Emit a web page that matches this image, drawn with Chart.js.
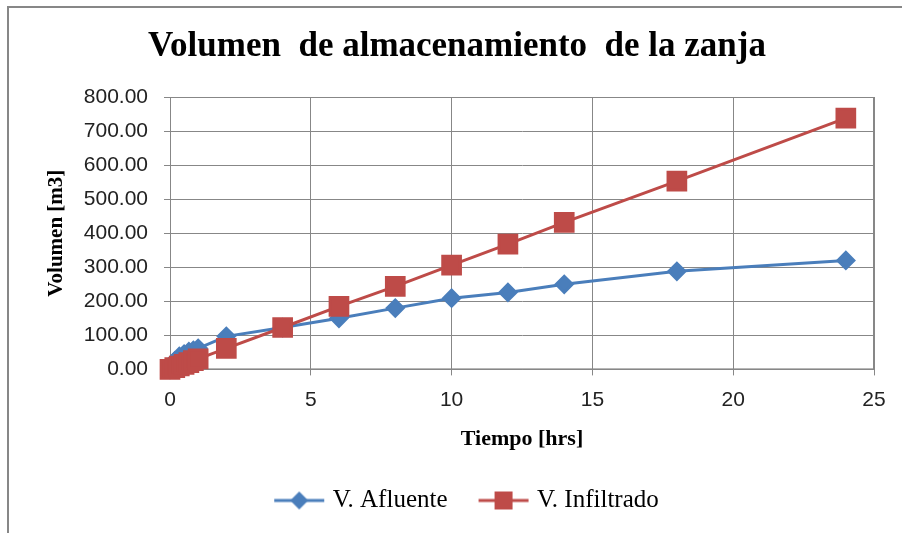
<!DOCTYPE html>
<html>
<head>
<meta charset="utf-8">
<script src="https://cdn.jsdelivr.net/npm/chart.js@4.4.1/dist/chart.umd.min.js"></script>
<style>
  html, body { margin: 0; padding: 0; background: #fff; }
  #wrap { position: relative; width: 902px; height: 533px; overflow: hidden; }
  #frame { position: absolute; left: 7px; top: 6px; width: 1000px; height: 1000px; border-left: 2px solid #878787; border-top: 2px solid #878787; }
  #c { position: absolute; left: 0; top: 0; }
</style>
</head>
<body>
<div id="wrap">
  <div id="frame"></div>
  <canvas id="c" width="902" height="533"></canvas>
</div>
<script>
/* datos */
const tiempo      = [0, 0.17, 0.33, 0.5, 0.67, 0.83, 1, 2, 4, 6, 8, 10, 12, 14, 18, 24];
const vAfluente   = [0, 25, 38, 45, 52, 56, 62, 97, 123, 150, 180, 209, 226, 250, 288, 320];
const vInfiltrado = [0, 5, 10, 15, 20, 26, 31, 62, 123, 185, 244, 306, 368, 432, 553, 738];
const yTicks = [0, 100, 200, 300, 400, 500, 600, 700, 800];
const xTicks = [0, 5, 10, 15, 20, 25];

const AZUL = '#4a7ebb', ROJO = '#be4b48', GRIS = '#878787';

/* icono de leyenda: línea + marcador (con hueco a la izquierda para separar entradas) */
function legIcon(color, style) {
  const cv = document.createElement('canvas');
  cv.width = 75; cv.height = 20;
  const g = cv.getContext('2d');
  g.strokeStyle = color; g.lineWidth = 3;
  g.beginPath(); g.moveTo(24, 10); g.lineTo(74, 10); g.stroke();
  g.fillStyle = color;
  if (style === 'rect') g.fillRect(40, 1, 18, 18);
  else { g.beginPath(); g.moveTo(49, 1); g.lineTo(58, 10); g.lineTo(49, 19); g.lineTo(40, 10); g.closePath(); g.fill(); }
  return cv;
}

const pts = (ys) => tiempo.map((t, i) => ({ x: t, y: ys[i] }));

new Chart(document.getElementById('c'), {
  type: 'line',
  data: { datasets: [
    // order 1: se dibuja debajo de la serie roja, como en la original
    { label: 'V. Afluente', data: pts(vAfluente), borderColor: AZUL, backgroundColor: AZUL, clip: false, order: 1,
      borderWidth: 3, pointStyle: 'rectRot', pointRadius: 8, pointHoverRadius: 8, tension: 0 },
    { label: 'V. Infiltrado', data: pts(vInfiltrado), borderColor: ROJO, backgroundColor: ROJO, clip: false, order: 0,
      borderWidth: 3, pointStyle: 'rect', pointRadius: 12.5, pointHoverRadius: 12.5, tension: 0 },
  ]},
  options: {
    responsive: false, animation: false,
    layout: { padding: { left: 40, right: 28, top: 0, bottom: 10 } },
    plugins: {
      title: { display: true, text: 'Volumen  de almacenamiento  de la zanja', color: '#000',
        font: { family: 'Liberation Serif', size: 35, weight: 'bold' }, padding: { top: 26, bottom: 29 } },
      legend: { position: 'bottom',
        labels: { color: '#000', font: { family: 'Liberation Serif', size: 25 }, usePointStyle: true, pointStyleWidth: 65, padding: 12,
          generateLabels: ch => ch.data.datasets.map((d, i) => ({
            text: d.label, fillStyle: d.borderColor, strokeStyle: d.borderColor, lineWidth: 0,
            pointStyle: legIcon(d.borderColor, i ? 'rect' : 'diamond'), datasetIndex: i, hidden: false })) } },
      tooltip: { enabled: false },
    },
    scales: {
      x: { type: 'linear', min: 0, max: 25, afterBuildTicks: a => { a.ticks = xTicks.map(v => ({ value: v })); },
        grid: { color: GRIS, tickLength: 6 }, border: { color: GRIS },
        ticks: { color: '#222', font: { family: 'Liberation Sans', size: 21 }, padding: 12 },
        title: { display: true, text: 'Tiempo [hrs]', color: '#000', font: { family: 'Liberation Serif', size: 22, weight: 'bold' }, padding: { top: 2, bottom: 23 } } },
      y: { min: 0, max: 800, afterBuildTicks: a => { a.ticks = yTicks.map(v => ({ value: v })); },
        afterFit: a => { a.width = 130; },
        grid: { color: GRIS, tickLength: 6 }, border: { color: GRIS },
        ticks: { color: '#222', font: { family: 'Liberation Sans', size: 21 }, padding: 16, callback: v => v.toFixed(2) },
        title: { display: true, text: 'Volumen [m3]', color: '#000', font: { family: 'Liberation Serif', size: 21, weight: 'bold' }, padding: 4 } },
    },
  },
  plugins: [{ id: 'marco', beforeDatasetsDraw(ch) {   // borde del área de trazado
    const { ctx, chartArea: a } = ch;
    ctx.save(); ctx.strokeStyle = GRIS; ctx.lineWidth = 1;
    ctx.strokeRect(a.left + 0.5, a.top + 0.5, a.width - 1, a.height - 1); ctx.restore();
  } }],
});
</script>
</body>
</html>
